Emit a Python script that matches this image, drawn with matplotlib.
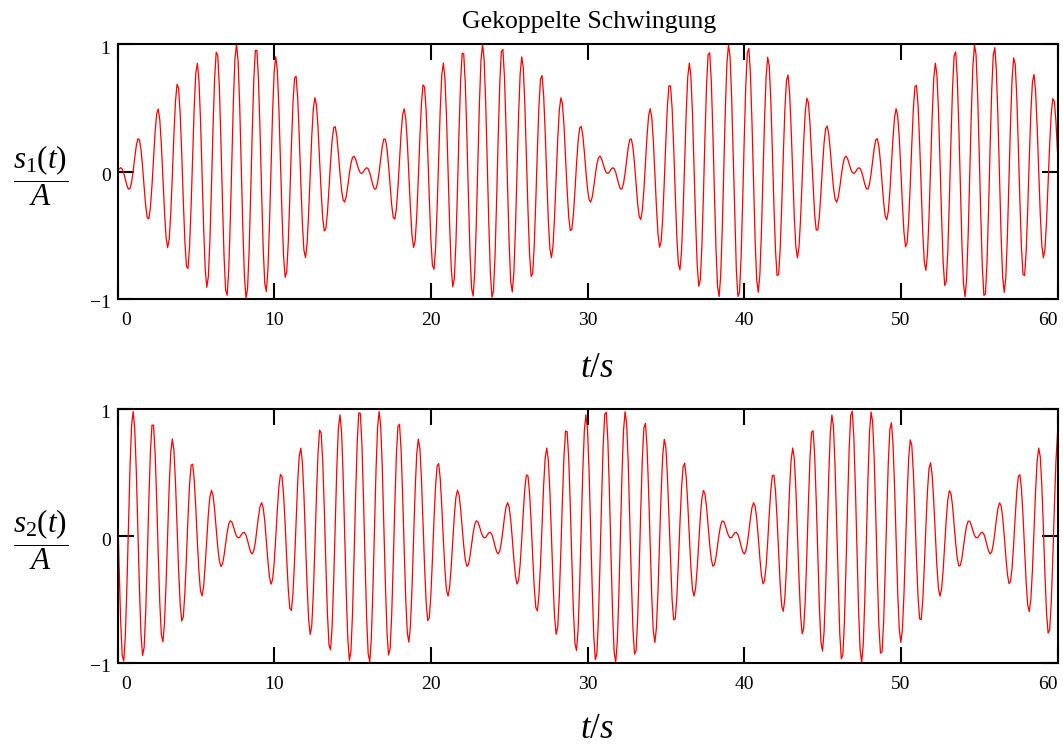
import numpy as np
import matplotlib
matplotlib.use("Agg")
import matplotlib.pyplot as plt
from matplotlib.transforms import ScaledTranslation

# time grid of the simulation (s)
T_START = 0.0
T_END = 60.0
T_STEP = 0.1

# normal-mode angular frequencies of the two coupled pendulums (rad/s)
MODE_OMEGAS = [4.8, 5.2]
# common start phase of both modes (rad)
MODE_PHASE = 1.3

X_TICKS = [0, 10, 20, 30, 40, 50, 60]
Y_TICKS = [-1, 0, 1]

TITLE = "Gekoppelte Schwingung"
Y_LABELS = [r"$\dfrac{s_1(t)}{A}$", r"$\dfrac{s_2(t)}{A}$"]
X_LABEL = r"$t/s$"

FIG_W, FIG_H = 1063, 747
LINE_COLOR = "#ff0000"

plt.rcParams["font.family"] = ["Liberation Serif", "DejaVu Serif"]
plt.rcParams["mathtext.fontset"] = "custom"
plt.rcParams["mathtext.rm"] = "Liberation Serif"
plt.rcParams["mathtext.it"] = "Liberation Serif:italic"


def px_rect(left, top, right, bottom):
    # axes box from pixel edges (origin top-left)
    return [left / FIG_W, 1 - bottom / FIG_H, (right - left) / FIG_W, (bottom - top) / FIG_H]


def pendulum_signals():
    t = np.arange(T_START, T_END + T_STEP / 2, T_STEP)
    w1, w2 = MODE_OMEGAS
    mode1 = np.cos(w1 * t + MODE_PHASE)
    mode2 = np.cos(w2 * t + MODE_PHASE)
    s1 = 0.5 * (mode1 - mode2)
    s2 = 0.5 * (mode1 + mode2)
    return t, s1, s2


def shift(fig, dx_px, dy_px):
    return ScaledTranslation(dx_px / 100, -dy_px / 100, fig.dpi_scale_trans)


def style_axes(fig, ax):
    ax.set_xlim(X_TICKS[0], X_TICKS[-1])
    ax.set_ylim(Y_TICKS[0], Y_TICKS[-1])
    ax.set_xticks(X_TICKS)
    ax.set_yticks(Y_TICKS)
    ax.tick_params(direction="in", length=11.5, width=1.5, top=True, right=True,
                   labelsize=14, color="black")
    ax.tick_params(axis="x", pad=9.5)
    ax.tick_params(axis="y", pad=5)
    for sp in ax.spines.values():
        sp.set_linewidth(1.5)

    # end labels sit inside the axis range
    xlabels = ax.get_xticklabels()
    xlabels[0].set_ha("left")
    xlabels[0].set_transform(xlabels[0].get_transform() + shift(fig, 4, 0))
    xlabels[-1].set_ha("right")
    for lab in ax.get_yticklabels():
        lab.set_transform(lab.get_transform() + shift(fig, 0, 3))


def main():
    t, s1, s2 = pendulum_signals()

    fig = plt.figure(figsize=(FIG_W / 100, FIG_H / 100), dpi=100)
    ax1 = fig.add_axes(px_rect(117.5, 44, 1057.5, 299))
    ax2 = fig.add_axes(px_rect(117.5, 409, 1057.5, 663))

    for ax, s, ylab, (top, bottom), xlab_y in [
        (ax1, s1, Y_LABELS[0], (44, 299), 369),
        (ax2, s2, Y_LABELS[1], (409, 663), 730),
    ]:
        ax.plot(t, s, color=LINE_COLOR, linewidth=0.9)
        style_axes(fig, ax)
        yc = (top + bottom) / 2 + 4
        fig.text(41 / FIG_W, 1 - yc / FIG_H, ylab, fontsize=22.5, ha="center", va="center")
        fig.text(597 / FIG_W, 1 - xlab_y / FIG_H, X_LABEL, fontsize=25, ha="center", va="center")

    fig.text(589.5 / FIG_W, 1 - 22 / FIG_H, TITLE, fontsize=18.5, ha="center", va="center")

    fig.savefig("out.png", dpi=100)


if __name__ == "__main__":
    main()
